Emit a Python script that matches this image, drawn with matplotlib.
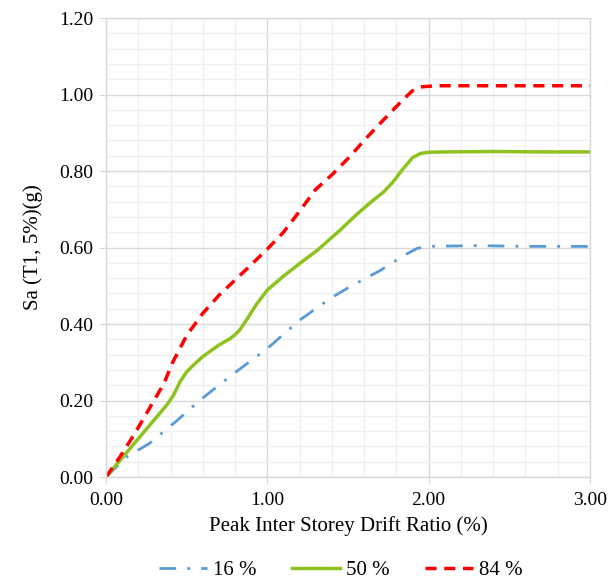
import matplotlib
matplotlib.use("Agg")
import matplotlib.pyplot as plt
from matplotlib.ticker import MultipleLocator, FormatStrFormatter

x16 = [0.0, 0.13, 0.27, 0.43, 0.58, 0.79, 1.0, 1.2, 1.39, 1.51, 1.7, 1.85, 1.93, 2.0, 2.3, 2.6, 3.0]
y16 = [0.0, 0.053, 0.088, 0.144, 0.20, 0.27, 0.336, 0.41, 0.467, 0.497, 0.54, 0.58, 0.598, 0.603, 0.605, 0.603, 0.603]

x50 = [0.0, 0.1, 0.21, 0.30, 0.38, 0.42, 0.46, 0.50, 0.54, 0.60, 0.70, 0.77, 0.80, 0.83, 0.87, 0.93, 1.0, 1.1, 1.2, 1.31, 1.45, 1.55, 1.64, 1.72, 1.78, 1.84, 1.90, 1.95, 2.0, 2.1, 2.4, 2.7, 3.0]
y50 = [0.0, 0.05, 0.105, 0.15, 0.19, 0.215, 0.25, 0.275, 0.292, 0.315, 0.345, 0.362, 0.372, 0.385, 0.41, 0.45, 0.489, 0.525, 0.558, 0.593, 0.645, 0.685, 0.718, 0.745, 0.772, 0.805, 0.835, 0.846, 0.849, 0.85, 0.851, 0.85, 0.85]

x84 = [0.0, 0.087, 0.18, 0.27, 0.36, 0.41, 0.5, 0.60, 0.70, 0.8, 0.9, 1.0, 1.1, 1.2, 1.30, 1.40, 1.51, 1.6, 1.7, 1.84, 1.90, 1.95, 2.05, 2.5, 3.0]
y84 = [0.0, 0.053, 0.115, 0.18, 0.245, 0.297, 0.37, 0.428, 0.475, 0.515, 0.555, 0.596, 0.64, 0.695, 0.752, 0.79, 0.837, 0.88, 0.925, 0.986, 1.01, 1.02, 1.023, 1.023, 1.023]

labels = ["16 %", "50 %", "84 %"]

plt.rcParams['font.family'] = ['Liberation Serif', 'DejaVu Serif']

fig = plt.figure(figsize=(6.11, 5.82), dpi=100)
ax = fig.add_axes([0.1735, 0.1804, 0.7921, 0.7886])

ax.set_xlim(0, 3)
ax.set_ylim(0, 1.2)
ax.xaxis.set_major_locator(MultipleLocator(1.0))
ax.xaxis.set_minor_locator(MultipleLocator(0.2))
ax.yaxis.set_major_locator(MultipleLocator(0.2))
ax.yaxis.set_minor_locator(MultipleLocator(0.04))
ax.grid(which='major', color='#d9d9d9', linewidth=1.0)
ax.grid(which='minor', color='#f0f0f0', linewidth=1.0)
ax.set_axisbelow(True)
for s in ax.spines.values():
    s.set_color('#d9d9d9')
    s.set_linewidth(1.0)
ax.tick_params(which='minor', length=0)
ax.tick_params(axis='x', which='major', length=5, color='#d9d9d9', labelsize=14, pad=6)
ax.tick_params(axis='y', which='major', length=5, color='#d9d9d9', labelsize=14, pad=4)
ax.xaxis.set_major_formatter(FormatStrFormatter('%.2f'))
ax.yaxis.set_major_formatter(FormatStrFormatter('%.2f'))

ax.plot(x16, y16, color='#5B9BD5', linewidth=2.0, linestyle=(0, (6, 4, 1, 4)), label=labels[0])
ax.plot(x50, y50, color='#8DC21F', linewidth=2.5, linestyle='-', label=labels[1])
ax.plot(x84, y84, color='#FF0000', linewidth=2.5, linestyle=(0, (3.2, 2.2)), label=labels[2])

ax.set_xlabel('Peak Inter Storey Drift Ratio (%)', fontsize=15, labelpad=5)
ax.set_ylabel('Sa (T1, 5%)(g)', fontsize=15, labelpad=12)

ax.legend(loc='upper center', bbox_to_anchor=(0.485, -0.15), ncol=3, frameon=False,
          fontsize=15, handlelength=2.3, handletextpad=0.3, columnspacing=1.7,
          borderpad=0.2)

fig.savefig('out.png', dpi=100)
